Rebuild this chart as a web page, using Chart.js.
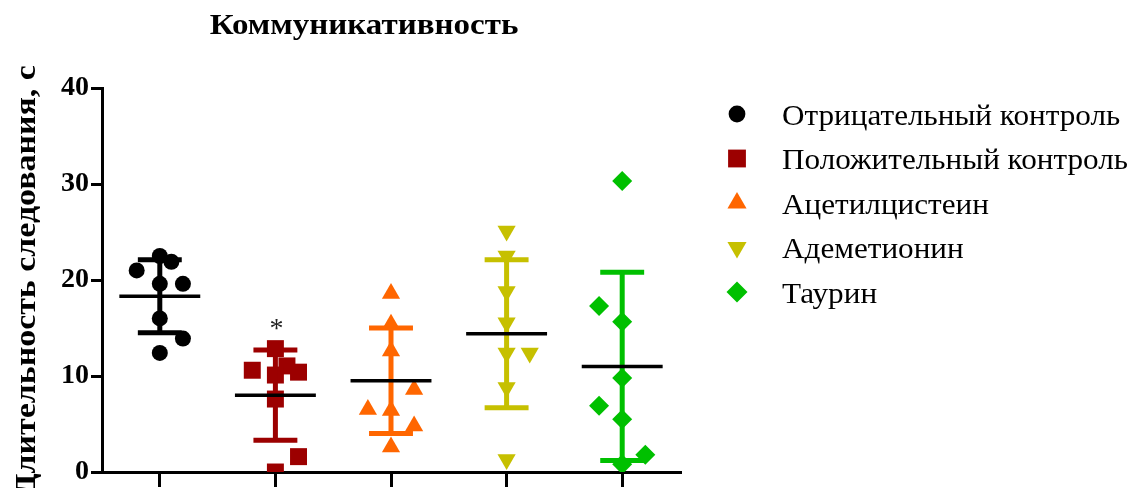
<!DOCTYPE html>
<html>
<head>
<meta charset="utf-8">
<script src="https://cdn.jsdelivr.net/npm/chart.js@4.4.1/dist/chart.umd.min.js"></script>
<style>
html, body { margin: 0; padding: 0; background: #ffffff; overflow: hidden; }
#wrap { position: relative; width: 1147px; height: 488px; }
</style>
</head>
<body>
<div id="wrap"><canvas id="chart" width="1147" height="488"></canvas></div>
<script>
// ---- data ----
const chartTitle = 'Коммуникативность';
const yAxisTitle = 'Длительность следования, с';
const groupNames = ['Отрицательный контроль', 'Положительный контроль', 'Ацетилцистеин', 'Адеметионин', 'Таурин'];
const yTickValues = [0, 10, 20, 30, 40];

const negativeControl = [22.5, 21.9, 21.0, 19.6, 19.6, 16.0, 13.9, 12.4];
const negativeJitter  = [0, 0.1, -0.2, 0, 0.2, 0, 0.2, 0];
const positiveControl = [12.85, 10.6, 11.05, 10.1, 10.4, 7.6, 1.6, 0.0];
const positiveJitter  = [0, -0.2, 0.1, 0, 0.2, 0, 0.2, 0];
const acetylcysteine  = [18.6, 15.4, 12.6, 8.6, 6.5, 6.4, 4.8, 2.6];
const acetylJitter    = [0, 0, 0, 0.2, -0.2, 0, 0.2, 0];
const ademetionine    = [25.1, 22.5, 18.8, 15.55, 12.4, 12.4, 8.8, 1.3];
const ademetJitter    = [0, 0, 0, 0, 0.2, 0, 0, 0];
const taurine         = [30.3, 17.3, 15.65, 9.8, 6.9, 5.5, 1.8, 0.8];
const taurineJitter   = [0, -0.2, 0, 0, -0.2, 0, 0.2, 0];

const groupMeans = [18.3, 8.0, 9.5, 14.4, 11.0];
const groupSDs   = [3.8, 4.7, 5.5, 7.7, 9.8];
const significance = ['', '*', '', '', ''];

// ---- styles ----
const groupColors = ['#000000', '#9c0000', '#ff6600', '#c6c000', '#00c000'];
const groupStyles = ['circle', 'rect', 'triangle', 'triangle', 'rectRot'];
const groupRotations = [0, 0, 0, 180, 0];
const groupRadii = [8, 12, 10.5, 10.5, 10];
const serif = "'Liberation Serif', 'Times New Roman', serif";

const seriesValues = [negativeControl, positiveControl, acetylcysteine, ademetionine, taurine];
const seriesJitter = [negativeJitter, positiveJitter, acetylJitter, ademetJitter, taurineJitter];

const datasets = groupNames.map((name, g) => ({
  label: name,
  data: seriesValues[g].map((v, i) => ({ x: g + seriesJitter[g][i], y: v })),
  backgroundColor: groupColors[g],
  borderColor: groupColors[g],
  pointStyle: groupStyles[g],
  rotation: groupRotations[g],
  pointRadius: groupRadii[g],
  pointHoverRadius: groupRadii[g],
  pointBorderWidth: 0,
  showLine: false
}));

function drawMarker(ctx, style, rotation, radius, x, y) {
  if (Chart.helpers && Chart.helpers.drawPoint) {
    Chart.helpers.drawPoint(ctx, { pointStyle: style, rotation: rotation, radius: radius, borderWidth: 0 }, x, y);
    return;
  }
  ctx.beginPath();
  if (style === 'circle') {
    ctx.arc(x, y, radius, 0, Math.PI * 2);
  } else if (style === 'rect') {
    const s = radius * Math.SQRT1_2;
    ctx.rect(x - s, y - s, 2 * s, 2 * s);
  } else if (style === 'rectRot') {
    ctx.moveTo(x, y - radius); ctx.lineTo(x + radius, y); ctx.lineTo(x, y + radius); ctx.lineTo(x - radius, y);
  } else {
    let rad = rotation * Math.PI / 180;
    for (let k = 0; k < 3; k++) {
      const px = x + Math.sin(rad) * radius, py = y - Math.cos(rad) * radius;
      if (k === 0) ctx.moveTo(px, py); else ctx.lineTo(px, py);
      rad += 2 * Math.PI / 3;
    }
  }
  ctx.closePath();
  ctx.fill();
}

// text with slightly widened glyphs, as in the reference
function wideText(ctx, text, x, y, sx) {
  ctx.save();
  ctx.translate(x, y);
  ctx.scale(sx, 1);
  ctx.fillText(text, 0, 0);
  ctx.restore();
}

const statsPlugin = {
  id: 'stats',
  afterDatasetsDraw(chart) {
    const { ctx, scales: { x, y } } = chart;
    ctx.save();
    groupNames.forEach((_, g) => {
      const cx = x.getPixelForValue(g);
      const top = y.getPixelForValue(groupMeans[g] + groupSDs[g]);
      const bot = y.getPixelForValue(Math.max(0, groupMeans[g] - groupSDs[g]));
      const capL = x.getPixelForValue(g - 0.19), capR = x.getPixelForValue(g + 0.19);
      ctx.strokeStyle = groupColors[g];
      ctx.lineWidth = 5;
      ctx.lineCap = 'butt';
      ctx.beginPath();
      ctx.moveTo(cx, top); ctx.lineTo(cx, bot);
      ctx.moveTo(capL, top); ctx.lineTo(capR, top);
      ctx.moveTo(capL, bot); ctx.lineTo(capR, bot);
      ctx.stroke();
      const m = y.getPixelForValue(groupMeans[g]);
      ctx.strokeStyle = '#000000';
      ctx.lineWidth = 3.5;
      ctx.beginPath();
      ctx.moveTo(x.getPixelForValue(g - 0.35), m);
      ctx.lineTo(x.getPixelForValue(g + 0.35), m);
      ctx.stroke();
      if (significance[g]) {
        const maxV = Math.max(...seriesValues[g]);
        ctx.fillStyle = '#222222';
        ctx.font = '28px ' + serif;
        ctx.textAlign = 'center';
        ctx.textBaseline = 'middle';
        ctx.fillText(significance[g], cx + 1, y.getPixelForValue(maxV) - 19);
      }
    });
    ctx.restore();
  },
  afterDraw(chart) {
    const { ctx } = chart;
    ctx.save();
    ctx.fillStyle = '#000000';
    // title
    ctx.font = 'bold 30px ' + serif;
    ctx.textAlign = 'center';
    ctx.textBaseline = 'alphabetic';
    wideText(ctx, chartTitle, 364, 34, 1.1);
    // y axis title
    ctx.save();
    ctx.translate(35, 281);
    ctx.rotate(-Math.PI / 2);
    ctx.font = 'bold 30px ' + serif;
    ctx.textAlign = 'center';
    ctx.textBaseline = 'alphabetic';
    wideText(ctx, yAxisTitle, 0, 0, 1.13);
    ctx.restore();
    // legend
    groupNames.forEach((name, g) => {
      const ly = 114 + g * 44.5;
      ctx.fillStyle = groupColors[g];
      drawMarker(ctx, groupStyles[g], groupRotations[g], groupRadii[g] * 1.05, 737, ly);
      ctx.fillStyle = '#000000';
      ctx.font = '29px ' + serif;
      ctx.textAlign = 'left';
      ctx.textBaseline = 'middle';
      wideText(ctx, name, 782, ly + 3, 1.075);
    });
    ctx.restore();
  }
};

new Chart(document.getElementById('chart'), {
  type: 'scatter',
  data: { datasets },
  plugins: [statsPlugin],
  options: {
    responsive: false,
    animation: false,
    devicePixelRatio: 1,
    layout: { padding: { left: 0, right: 467, top: 88, bottom: 0 } },
    plugins: { legend: { display: false }, tooltip: { enabled: false }, title: { display: false } },
    scales: {
      x: {
        type: 'linear', min: -0.5, max: 4.5,
        afterBuildTicks: s => { s.ticks = groupNames.map((_, i) => ({ value: i })); },
        afterFit: s => { s.height = 15; },
        border: { display: true, color: '#000000', width: 3 },
        grid: { drawOnChartArea: false, drawTicks: true, tickLength: 15, color: '#000000', lineWidth: 3 },
        ticks: { display: false }
      },
      y: {
        min: 0, max: 40,
        afterBuildTicks: s => { s.ticks = yTickValues.map(v => ({ value: v })); },
        afterFit: s => { s.width = 102; },
        border: { display: true, color: '#000000', width: 3 },
        grid: { drawOnChartArea: false, drawTicks: true, tickLength: 11, color: '#000000', lineWidth: 3 },
        ticks: { color: '#000000', padding: 2, font: { family: serif, size: 28, weight: 'bold', lineHeight: 1 } },
        title: { display: false }
      }
    }
  }
});
</script>
</body>
</html>
